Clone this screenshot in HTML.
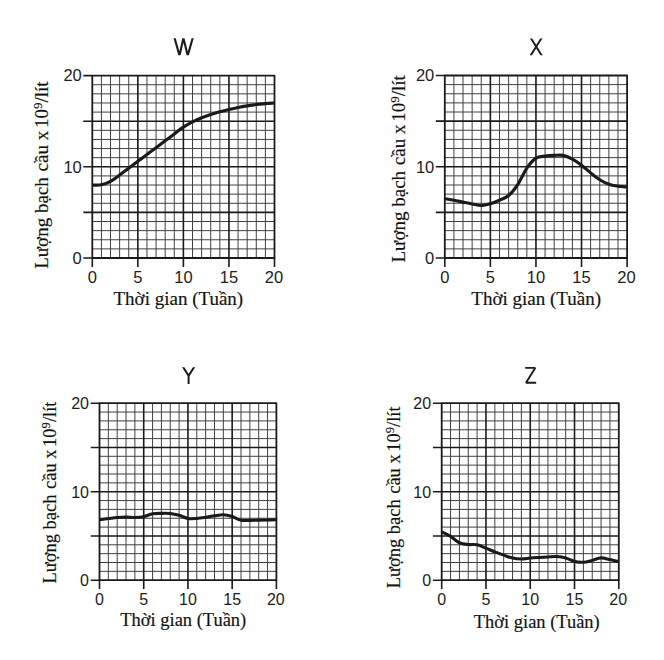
<!DOCTYPE html>
<html><head><meta charset="utf-8"><style>
html,body{margin:0;padding:0;background:#fff;width:664px;height:660px;overflow:hidden}
svg{display:block}
</style></head><body>
<svg width="664" height="660" viewBox="0 0 664 660">
<line x1="101.41" y1="75.60" x2="101.41" y2="258.00" stroke="#404040" stroke-width="1.0"/>
<line x1="92.30" y1="84.72" x2="274.50" y2="84.72" stroke="#404040" stroke-width="1.0"/>
<line x1="110.52" y1="75.60" x2="110.52" y2="258.00" stroke="#404040" stroke-width="1.0"/>
<line x1="92.30" y1="93.84" x2="274.50" y2="93.84" stroke="#404040" stroke-width="1.0"/>
<line x1="119.63" y1="75.60" x2="119.63" y2="258.00" stroke="#404040" stroke-width="1.0"/>
<line x1="92.30" y1="102.96" x2="274.50" y2="102.96" stroke="#404040" stroke-width="1.0"/>
<line x1="128.74" y1="75.60" x2="128.74" y2="258.00" stroke="#404040" stroke-width="1.0"/>
<line x1="92.30" y1="112.08" x2="274.50" y2="112.08" stroke="#404040" stroke-width="1.0"/>
<line x1="146.96" y1="75.60" x2="146.96" y2="258.00" stroke="#404040" stroke-width="1.0"/>
<line x1="92.30" y1="130.32" x2="274.50" y2="130.32" stroke="#404040" stroke-width="1.0"/>
<line x1="156.07" y1="75.60" x2="156.07" y2="258.00" stroke="#404040" stroke-width="1.0"/>
<line x1="92.30" y1="139.44" x2="274.50" y2="139.44" stroke="#404040" stroke-width="1.0"/>
<line x1="165.18" y1="75.60" x2="165.18" y2="258.00" stroke="#404040" stroke-width="1.0"/>
<line x1="92.30" y1="148.56" x2="274.50" y2="148.56" stroke="#404040" stroke-width="1.0"/>
<line x1="174.29" y1="75.60" x2="174.29" y2="258.00" stroke="#404040" stroke-width="1.0"/>
<line x1="92.30" y1="157.68" x2="274.50" y2="157.68" stroke="#404040" stroke-width="1.0"/>
<line x1="192.51" y1="75.60" x2="192.51" y2="258.00" stroke="#404040" stroke-width="1.0"/>
<line x1="92.30" y1="175.92" x2="274.50" y2="175.92" stroke="#404040" stroke-width="1.0"/>
<line x1="201.62" y1="75.60" x2="201.62" y2="258.00" stroke="#404040" stroke-width="1.0"/>
<line x1="92.30" y1="185.04" x2="274.50" y2="185.04" stroke="#404040" stroke-width="1.0"/>
<line x1="210.73" y1="75.60" x2="210.73" y2="258.00" stroke="#404040" stroke-width="1.0"/>
<line x1="92.30" y1="194.16" x2="274.50" y2="194.16" stroke="#404040" stroke-width="1.0"/>
<line x1="219.84" y1="75.60" x2="219.84" y2="258.00" stroke="#404040" stroke-width="1.0"/>
<line x1="92.30" y1="203.28" x2="274.50" y2="203.28" stroke="#404040" stroke-width="1.0"/>
<line x1="238.06" y1="75.60" x2="238.06" y2="258.00" stroke="#404040" stroke-width="1.0"/>
<line x1="92.30" y1="221.52" x2="274.50" y2="221.52" stroke="#404040" stroke-width="1.0"/>
<line x1="247.17" y1="75.60" x2="247.17" y2="258.00" stroke="#404040" stroke-width="1.0"/>
<line x1="92.30" y1="230.64" x2="274.50" y2="230.64" stroke="#404040" stroke-width="1.0"/>
<line x1="256.28" y1="75.60" x2="256.28" y2="258.00" stroke="#404040" stroke-width="1.0"/>
<line x1="92.30" y1="239.76" x2="274.50" y2="239.76" stroke="#404040" stroke-width="1.0"/>
<line x1="265.39" y1="75.60" x2="265.39" y2="258.00" stroke="#404040" stroke-width="1.0"/>
<line x1="92.30" y1="248.88" x2="274.50" y2="248.88" stroke="#404040" stroke-width="1.0"/>
<line x1="137.85" y1="75.60" x2="137.85" y2="258.00" stroke="#1a1a1a" stroke-width="1.6"/>
<line x1="92.30" y1="121.20" x2="274.50" y2="121.20" stroke="#1a1a1a" stroke-width="1.6"/>
<line x1="183.40" y1="75.60" x2="183.40" y2="258.00" stroke="#1a1a1a" stroke-width="1.6"/>
<line x1="92.30" y1="166.80" x2="274.50" y2="166.80" stroke="#1a1a1a" stroke-width="1.6"/>
<line x1="228.95" y1="75.60" x2="228.95" y2="258.00" stroke="#1a1a1a" stroke-width="1.6"/>
<line x1="92.30" y1="212.40" x2="274.50" y2="212.40" stroke="#1a1a1a" stroke-width="1.6"/>
<path d="M92.30,258.00 V267.00 M92.30,75.60 H83.30 M137.85,258.00 V267.00 M92.30,121.20 H83.30 M183.40,258.00 V267.00 M92.30,166.80 H83.30 M228.95,258.00 V267.00 M92.30,212.40 H83.30 M274.50,258.00 V267.00 M92.30,258.00 H83.30 " stroke="#1a1a1a" stroke-width="1.6" fill="none"/>
<rect x="92.30" y="75.60" width="182.20" height="182.40" fill="none" stroke="#1a1a1a" stroke-width="1.80" stroke-linejoin="round"/>
<path d="M92.30,185.04 C93.82,184.99 98.37,185.37 101.41,184.77 C104.45,184.16 107.48,183.02 110.52,181.39 C113.56,179.77 116.59,177.21 119.63,175.01 C122.67,172.80 125.70,170.45 128.74,168.17 C131.78,165.89 134.81,163.61 137.85,161.33 C140.89,159.05 143.92,156.77 146.96,154.49 C150.00,152.21 153.03,149.93 156.07,147.65 C159.11,145.37 162.14,143.09 165.18,140.81 C168.22,138.53 171.25,136.25 174.29,133.97 C177.33,131.69 180.36,129.15 183.40,127.13 C186.44,125.11 189.47,123.40 192.51,121.84 C195.55,120.27 198.58,118.97 201.62,117.73 C204.66,116.50 207.69,115.44 210.73,114.45 C213.77,113.46 216.80,112.63 219.84,111.81 C222.88,110.99 225.91,110.24 228.95,109.53 C231.99,108.81 235.02,108.13 238.06,107.52 C241.10,106.91 244.13,106.38 247.17,105.88 C250.21,105.38 253.24,104.89 256.28,104.51 C259.32,104.13 262.35,103.86 265.39,103.60 C268.43,103.34 272.98,103.07 274.50,102.96" fill="none" stroke="#1a1a1a" stroke-width="3.15" stroke-linecap="butt" stroke-linejoin="round"/>
<line x1="453.92" y1="75.50" x2="453.92" y2="258.00" stroke="#404040" stroke-width="1.0"/>
<line x1="444.80" y1="84.62" x2="627.10" y2="84.62" stroke="#404040" stroke-width="1.0"/>
<line x1="463.03" y1="75.50" x2="463.03" y2="258.00" stroke="#404040" stroke-width="1.0"/>
<line x1="444.80" y1="93.75" x2="627.10" y2="93.75" stroke="#404040" stroke-width="1.0"/>
<line x1="472.14" y1="75.50" x2="472.14" y2="258.00" stroke="#404040" stroke-width="1.0"/>
<line x1="444.80" y1="102.88" x2="627.10" y2="102.88" stroke="#404040" stroke-width="1.0"/>
<line x1="481.26" y1="75.50" x2="481.26" y2="258.00" stroke="#404040" stroke-width="1.0"/>
<line x1="444.80" y1="112.00" x2="627.10" y2="112.00" stroke="#404040" stroke-width="1.0"/>
<line x1="499.49" y1="75.50" x2="499.49" y2="258.00" stroke="#404040" stroke-width="1.0"/>
<line x1="444.80" y1="130.25" x2="627.10" y2="130.25" stroke="#404040" stroke-width="1.0"/>
<line x1="508.61" y1="75.50" x2="508.61" y2="258.00" stroke="#404040" stroke-width="1.0"/>
<line x1="444.80" y1="139.38" x2="627.10" y2="139.38" stroke="#404040" stroke-width="1.0"/>
<line x1="517.72" y1="75.50" x2="517.72" y2="258.00" stroke="#404040" stroke-width="1.0"/>
<line x1="444.80" y1="148.50" x2="627.10" y2="148.50" stroke="#404040" stroke-width="1.0"/>
<line x1="526.84" y1="75.50" x2="526.84" y2="258.00" stroke="#404040" stroke-width="1.0"/>
<line x1="444.80" y1="157.62" x2="627.10" y2="157.62" stroke="#404040" stroke-width="1.0"/>
<line x1="545.07" y1="75.50" x2="545.07" y2="258.00" stroke="#404040" stroke-width="1.0"/>
<line x1="444.80" y1="175.88" x2="627.10" y2="175.88" stroke="#404040" stroke-width="1.0"/>
<line x1="554.18" y1="75.50" x2="554.18" y2="258.00" stroke="#404040" stroke-width="1.0"/>
<line x1="444.80" y1="185.00" x2="627.10" y2="185.00" stroke="#404040" stroke-width="1.0"/>
<line x1="563.30" y1="75.50" x2="563.30" y2="258.00" stroke="#404040" stroke-width="1.0"/>
<line x1="444.80" y1="194.12" x2="627.10" y2="194.12" stroke="#404040" stroke-width="1.0"/>
<line x1="572.41" y1="75.50" x2="572.41" y2="258.00" stroke="#404040" stroke-width="1.0"/>
<line x1="444.80" y1="203.25" x2="627.10" y2="203.25" stroke="#404040" stroke-width="1.0"/>
<line x1="590.64" y1="75.50" x2="590.64" y2="258.00" stroke="#404040" stroke-width="1.0"/>
<line x1="444.80" y1="221.50" x2="627.10" y2="221.50" stroke="#404040" stroke-width="1.0"/>
<line x1="599.75" y1="75.50" x2="599.75" y2="258.00" stroke="#404040" stroke-width="1.0"/>
<line x1="444.80" y1="230.62" x2="627.10" y2="230.62" stroke="#404040" stroke-width="1.0"/>
<line x1="608.87" y1="75.50" x2="608.87" y2="258.00" stroke="#404040" stroke-width="1.0"/>
<line x1="444.80" y1="239.75" x2="627.10" y2="239.75" stroke="#404040" stroke-width="1.0"/>
<line x1="617.99" y1="75.50" x2="617.99" y2="258.00" stroke="#404040" stroke-width="1.0"/>
<line x1="444.80" y1="248.88" x2="627.10" y2="248.88" stroke="#404040" stroke-width="1.0"/>
<line x1="490.38" y1="75.50" x2="490.38" y2="258.00" stroke="#1a1a1a" stroke-width="1.6"/>
<line x1="444.80" y1="121.12" x2="627.10" y2="121.12" stroke="#1a1a1a" stroke-width="1.6"/>
<line x1="535.95" y1="75.50" x2="535.95" y2="258.00" stroke="#1a1a1a" stroke-width="1.6"/>
<line x1="444.80" y1="166.75" x2="627.10" y2="166.75" stroke="#1a1a1a" stroke-width="1.6"/>
<line x1="581.52" y1="75.50" x2="581.52" y2="258.00" stroke="#1a1a1a" stroke-width="1.6"/>
<line x1="444.80" y1="212.38" x2="627.10" y2="212.38" stroke="#1a1a1a" stroke-width="1.6"/>
<path d="M444.80,258.00 V267.00 M444.80,75.50 H435.80 M490.38,258.00 V267.00 M444.80,121.12 H435.80 M535.95,258.00 V267.00 M444.80,166.75 H435.80 M581.52,258.00 V267.00 M444.80,212.38 H435.80 M627.10,258.00 V267.00 M444.80,258.00 H435.80 " stroke="#1a1a1a" stroke-width="1.6" fill="none"/>
<rect x="444.80" y="75.50" width="182.30" height="182.50" fill="none" stroke="#1a1a1a" stroke-width="1.80" stroke-linejoin="round"/>
<path d="M444.80,198.69 C446.32,198.95 450.88,199.66 453.92,200.24 C456.95,200.82 459.99,201.53 463.03,202.16 C466.07,202.78 469.11,203.42 472.14,203.98 C475.18,204.54 478.22,205.58 481.26,205.53 C484.30,205.49 487.34,204.59 490.38,203.71 C493.41,202.82 496.45,201.61 499.49,200.24 C502.53,198.87 505.57,198.11 508.61,195.49 C511.64,192.88 514.68,189.11 517.72,184.54 C520.76,179.98 523.80,172.53 526.84,168.12 C529.87,163.71 532.91,160.09 535.95,158.08 C538.99,156.07 542.03,156.53 545.07,156.07 C548.10,155.62 551.14,155.47 554.18,155.34 C557.22,155.22 560.26,154.71 563.30,155.34 C566.33,155.98 569.37,157.53 572.41,159.18 C575.45,160.82 578.49,162.92 581.52,165.20 C584.56,167.48 587.60,170.45 590.64,172.86 C593.68,175.28 596.72,177.81 599.75,179.71 C602.79,181.61 605.83,183.19 608.87,184.27 C611.91,185.35 614.95,185.73 617.99,186.19 C621.02,186.64 625.58,186.87 627.10,187.01" fill="none" stroke="#1a1a1a" stroke-width="3.15" stroke-linecap="butt" stroke-linejoin="round"/>
<line x1="108.34" y1="403.20" x2="108.34" y2="580.20" stroke="#404040" stroke-width="1.0"/>
<line x1="99.50" y1="412.05" x2="276.40" y2="412.05" stroke="#404040" stroke-width="1.0"/>
<line x1="117.19" y1="403.20" x2="117.19" y2="580.20" stroke="#404040" stroke-width="1.0"/>
<line x1="99.50" y1="420.90" x2="276.40" y2="420.90" stroke="#404040" stroke-width="1.0"/>
<line x1="126.03" y1="403.20" x2="126.03" y2="580.20" stroke="#404040" stroke-width="1.0"/>
<line x1="99.50" y1="429.75" x2="276.40" y2="429.75" stroke="#404040" stroke-width="1.0"/>
<line x1="134.88" y1="403.20" x2="134.88" y2="580.20" stroke="#404040" stroke-width="1.0"/>
<line x1="99.50" y1="438.60" x2="276.40" y2="438.60" stroke="#404040" stroke-width="1.0"/>
<line x1="152.57" y1="403.20" x2="152.57" y2="580.20" stroke="#404040" stroke-width="1.0"/>
<line x1="99.50" y1="456.30" x2="276.40" y2="456.30" stroke="#404040" stroke-width="1.0"/>
<line x1="161.41" y1="403.20" x2="161.41" y2="580.20" stroke="#404040" stroke-width="1.0"/>
<line x1="99.50" y1="465.15" x2="276.40" y2="465.15" stroke="#404040" stroke-width="1.0"/>
<line x1="170.26" y1="403.20" x2="170.26" y2="580.20" stroke="#404040" stroke-width="1.0"/>
<line x1="99.50" y1="474.00" x2="276.40" y2="474.00" stroke="#404040" stroke-width="1.0"/>
<line x1="179.10" y1="403.20" x2="179.10" y2="580.20" stroke="#404040" stroke-width="1.0"/>
<line x1="99.50" y1="482.85" x2="276.40" y2="482.85" stroke="#404040" stroke-width="1.0"/>
<line x1="196.79" y1="403.20" x2="196.79" y2="580.20" stroke="#404040" stroke-width="1.0"/>
<line x1="99.50" y1="500.55" x2="276.40" y2="500.55" stroke="#404040" stroke-width="1.0"/>
<line x1="205.64" y1="403.20" x2="205.64" y2="580.20" stroke="#404040" stroke-width="1.0"/>
<line x1="99.50" y1="509.40" x2="276.40" y2="509.40" stroke="#404040" stroke-width="1.0"/>
<line x1="214.48" y1="403.20" x2="214.48" y2="580.20" stroke="#404040" stroke-width="1.0"/>
<line x1="99.50" y1="518.25" x2="276.40" y2="518.25" stroke="#404040" stroke-width="1.0"/>
<line x1="223.33" y1="403.20" x2="223.33" y2="580.20" stroke="#404040" stroke-width="1.0"/>
<line x1="99.50" y1="527.10" x2="276.40" y2="527.10" stroke="#404040" stroke-width="1.0"/>
<line x1="241.02" y1="403.20" x2="241.02" y2="580.20" stroke="#404040" stroke-width="1.0"/>
<line x1="99.50" y1="544.80" x2="276.40" y2="544.80" stroke="#404040" stroke-width="1.0"/>
<line x1="249.86" y1="403.20" x2="249.86" y2="580.20" stroke="#404040" stroke-width="1.0"/>
<line x1="99.50" y1="553.65" x2="276.40" y2="553.65" stroke="#404040" stroke-width="1.0"/>
<line x1="258.71" y1="403.20" x2="258.71" y2="580.20" stroke="#404040" stroke-width="1.0"/>
<line x1="99.50" y1="562.50" x2="276.40" y2="562.50" stroke="#404040" stroke-width="1.0"/>
<line x1="267.55" y1="403.20" x2="267.55" y2="580.20" stroke="#404040" stroke-width="1.0"/>
<line x1="99.50" y1="571.35" x2="276.40" y2="571.35" stroke="#404040" stroke-width="1.0"/>
<line x1="143.72" y1="403.20" x2="143.72" y2="580.20" stroke="#1a1a1a" stroke-width="1.6"/>
<line x1="99.50" y1="447.45" x2="276.40" y2="447.45" stroke="#1a1a1a" stroke-width="1.6"/>
<line x1="187.95" y1="403.20" x2="187.95" y2="580.20" stroke="#1a1a1a" stroke-width="1.6"/>
<line x1="99.50" y1="491.70" x2="276.40" y2="491.70" stroke="#1a1a1a" stroke-width="1.6"/>
<line x1="232.17" y1="403.20" x2="232.17" y2="580.20" stroke="#1a1a1a" stroke-width="1.6"/>
<line x1="99.50" y1="535.95" x2="276.40" y2="535.95" stroke="#1a1a1a" stroke-width="1.6"/>
<path d="M99.50,580.20 V588.95 M99.50,403.20 H90.75 M143.72,580.20 V588.95 M99.50,447.45 H90.75 M187.95,580.20 V588.95 M99.50,491.70 H90.75 M232.17,580.20 V588.95 M99.50,535.95 H90.75 M276.40,580.20 V588.95 M99.50,580.20 H90.75 " stroke="#1a1a1a" stroke-width="1.6" fill="none"/>
<rect x="99.50" y="403.20" width="176.90" height="177.00" fill="none" stroke="#1a1a1a" stroke-width="1.80" stroke-linejoin="round"/>
<path d="M99.50,519.75 C100.97,519.56 105.40,518.99 108.34,518.60 C111.29,518.22 114.24,517.70 117.19,517.45 C120.14,517.20 123.09,517.10 126.03,517.10 C128.98,517.10 131.93,517.53 134.88,517.45 C137.83,517.38 140.78,517.26 143.72,516.66 C146.67,516.05 149.62,514.37 152.57,513.83 C155.52,513.28 158.47,513.43 161.41,513.38 C164.36,513.34 167.31,513.24 170.26,513.56 C173.21,513.88 176.16,514.52 179.10,515.33 C182.05,516.14 185.00,517.91 187.95,518.43 C190.90,518.94 193.85,518.60 196.79,518.43 C199.74,518.25 202.69,517.79 205.64,517.37 C208.59,516.94 211.54,516.29 214.48,515.86 C217.43,515.43 220.38,514.68 223.33,514.80 C226.28,514.92 229.23,515.67 232.17,516.57 C235.12,517.47 238.07,519.56 241.02,520.20 C243.97,520.83 246.92,520.39 249.86,520.37 C252.81,520.36 255.76,520.18 258.71,520.11 C261.66,520.03 264.61,519.99 267.55,519.93 C270.50,519.87 274.93,519.78 276.40,519.75" fill="none" stroke="#1a1a1a" stroke-width="3.06" stroke-linecap="butt" stroke-linejoin="round"/>
<line x1="450.56" y1="403.20" x2="450.56" y2="580.20" stroke="#404040" stroke-width="1.0"/>
<line x1="441.70" y1="412.05" x2="618.80" y2="412.05" stroke="#404040" stroke-width="1.0"/>
<line x1="459.41" y1="403.20" x2="459.41" y2="580.20" stroke="#404040" stroke-width="1.0"/>
<line x1="441.70" y1="420.90" x2="618.80" y2="420.90" stroke="#404040" stroke-width="1.0"/>
<line x1="468.26" y1="403.20" x2="468.26" y2="580.20" stroke="#404040" stroke-width="1.0"/>
<line x1="441.70" y1="429.75" x2="618.80" y2="429.75" stroke="#404040" stroke-width="1.0"/>
<line x1="477.12" y1="403.20" x2="477.12" y2="580.20" stroke="#404040" stroke-width="1.0"/>
<line x1="441.70" y1="438.60" x2="618.80" y2="438.60" stroke="#404040" stroke-width="1.0"/>
<line x1="494.83" y1="403.20" x2="494.83" y2="580.20" stroke="#404040" stroke-width="1.0"/>
<line x1="441.70" y1="456.30" x2="618.80" y2="456.30" stroke="#404040" stroke-width="1.0"/>
<line x1="503.69" y1="403.20" x2="503.69" y2="580.20" stroke="#404040" stroke-width="1.0"/>
<line x1="441.70" y1="465.15" x2="618.80" y2="465.15" stroke="#404040" stroke-width="1.0"/>
<line x1="512.54" y1="403.20" x2="512.54" y2="580.20" stroke="#404040" stroke-width="1.0"/>
<line x1="441.70" y1="474.00" x2="618.80" y2="474.00" stroke="#404040" stroke-width="1.0"/>
<line x1="521.39" y1="403.20" x2="521.39" y2="580.20" stroke="#404040" stroke-width="1.0"/>
<line x1="441.70" y1="482.85" x2="618.80" y2="482.85" stroke="#404040" stroke-width="1.0"/>
<line x1="539.11" y1="403.20" x2="539.11" y2="580.20" stroke="#404040" stroke-width="1.0"/>
<line x1="441.70" y1="500.55" x2="618.80" y2="500.55" stroke="#404040" stroke-width="1.0"/>
<line x1="547.96" y1="403.20" x2="547.96" y2="580.20" stroke="#404040" stroke-width="1.0"/>
<line x1="441.70" y1="509.40" x2="618.80" y2="509.40" stroke="#404040" stroke-width="1.0"/>
<line x1="556.81" y1="403.20" x2="556.81" y2="580.20" stroke="#404040" stroke-width="1.0"/>
<line x1="441.70" y1="518.25" x2="618.80" y2="518.25" stroke="#404040" stroke-width="1.0"/>
<line x1="565.67" y1="403.20" x2="565.67" y2="580.20" stroke="#404040" stroke-width="1.0"/>
<line x1="441.70" y1="527.10" x2="618.80" y2="527.10" stroke="#404040" stroke-width="1.0"/>
<line x1="583.38" y1="403.20" x2="583.38" y2="580.20" stroke="#404040" stroke-width="1.0"/>
<line x1="441.70" y1="544.80" x2="618.80" y2="544.80" stroke="#404040" stroke-width="1.0"/>
<line x1="592.23" y1="403.20" x2="592.23" y2="580.20" stroke="#404040" stroke-width="1.0"/>
<line x1="441.70" y1="553.65" x2="618.80" y2="553.65" stroke="#404040" stroke-width="1.0"/>
<line x1="601.09" y1="403.20" x2="601.09" y2="580.20" stroke="#404040" stroke-width="1.0"/>
<line x1="441.70" y1="562.50" x2="618.80" y2="562.50" stroke="#404040" stroke-width="1.0"/>
<line x1="609.94" y1="403.20" x2="609.94" y2="580.20" stroke="#404040" stroke-width="1.0"/>
<line x1="441.70" y1="571.35" x2="618.80" y2="571.35" stroke="#404040" stroke-width="1.0"/>
<line x1="485.97" y1="403.20" x2="485.97" y2="580.20" stroke="#1a1a1a" stroke-width="1.6"/>
<line x1="441.70" y1="447.45" x2="618.80" y2="447.45" stroke="#1a1a1a" stroke-width="1.6"/>
<line x1="530.25" y1="403.20" x2="530.25" y2="580.20" stroke="#1a1a1a" stroke-width="1.6"/>
<line x1="441.70" y1="491.70" x2="618.80" y2="491.70" stroke="#1a1a1a" stroke-width="1.6"/>
<line x1="574.52" y1="403.20" x2="574.52" y2="580.20" stroke="#1a1a1a" stroke-width="1.6"/>
<line x1="441.70" y1="535.95" x2="618.80" y2="535.95" stroke="#1a1a1a" stroke-width="1.6"/>
<path d="M441.70,580.20 V588.95 M441.70,403.20 H432.95 M485.97,580.20 V588.95 M441.70,447.45 H432.95 M530.25,580.20 V588.95 M441.70,491.70 H432.95 M574.52,580.20 V588.95 M441.70,535.95 H432.95 M618.80,580.20 V588.95 M441.70,580.20 H432.95 " stroke="#1a1a1a" stroke-width="1.6" fill="none"/>
<rect x="441.70" y="403.20" width="177.10" height="177.00" fill="none" stroke="#1a1a1a" stroke-width="1.80" stroke-linejoin="round"/>
<path d="M441.70,531.97 C443.18,532.70 447.60,534.59 450.56,536.39 C453.51,538.19 456.46,541.41 459.41,542.76 C462.36,544.12 465.31,544.20 468.26,544.53 C471.22,544.87 474.17,544.20 477.12,544.80 C480.07,545.40 483.02,546.98 485.97,548.16 C488.93,549.34 491.88,550.71 494.83,551.88 C497.78,553.05 500.73,554.12 503.69,555.15 C506.64,556.19 509.59,557.44 512.54,558.08 C515.49,558.71 518.44,558.96 521.39,558.96 C524.35,558.96 527.30,558.33 530.25,558.08 C533.20,557.82 536.15,557.65 539.11,557.46 C542.06,557.26 545.01,557.07 547.96,556.92 C550.91,556.78 553.86,556.41 556.81,556.57 C559.77,556.73 562.72,557.09 565.67,557.90 C568.62,558.71 571.57,560.72 574.52,561.44 C577.48,562.16 580.43,562.41 583.38,562.23 C586.33,562.06 589.28,561.10 592.23,560.38 C595.19,559.65 598.14,558.03 601.09,557.90 C604.04,557.77 606.99,558.96 609.94,559.58 C612.90,560.20 617.32,561.28 618.80,561.62" fill="none" stroke="#1a1a1a" stroke-width="3.06" stroke-linecap="butt" stroke-linejoin="round"/>
<text x="81.80" y="81.20" font-family="Liberation Sans" font-size="16.5" text-anchor="end" fill="#1c1c1c">20</text>
<text x="81.80" y="172.80" font-family="Liberation Sans" font-size="16.5" text-anchor="end" fill="#1c1c1c">10</text>
<text x="81.80" y="264.00" font-family="Liberation Sans" font-size="16.5" text-anchor="end" fill="#1c1c1c">0</text>
<text x="92.30" y="283.00" font-family="Liberation Sans" font-size="16.5" text-anchor="middle" fill="#1c1c1c">0</text>
<text x="137.85" y="283.00" font-family="Liberation Sans" font-size="16.5" text-anchor="middle" fill="#1c1c1c">5</text>
<text x="183.40" y="283.00" font-family="Liberation Sans" font-size="16.5" text-anchor="middle" fill="#1c1c1c">10</text>
<text x="228.95" y="283.00" font-family="Liberation Sans" font-size="16.5" text-anchor="middle" fill="#1c1c1c">15</text>
<text x="273.90" y="283.00" font-family="Liberation Sans" font-size="16.5" text-anchor="middle" fill="#1c1c1c">20</text>
<text x="434.30" y="81.10" font-family="Liberation Sans" font-size="16.5" text-anchor="end" fill="#1c1c1c">20</text>
<text x="434.30" y="172.75" font-family="Liberation Sans" font-size="16.5" text-anchor="end" fill="#1c1c1c">10</text>
<text x="434.30" y="264.00" font-family="Liberation Sans" font-size="16.5" text-anchor="end" fill="#1c1c1c">0</text>
<text x="444.80" y="283.00" font-family="Liberation Sans" font-size="16.5" text-anchor="middle" fill="#1c1c1c">0</text>
<text x="490.38" y="283.00" font-family="Liberation Sans" font-size="16.5" text-anchor="middle" fill="#1c1c1c">5</text>
<text x="535.95" y="283.00" font-family="Liberation Sans" font-size="16.5" text-anchor="middle" fill="#1c1c1c">10</text>
<text x="581.52" y="283.00" font-family="Liberation Sans" font-size="16.5" text-anchor="middle" fill="#1c1c1c">15</text>
<text x="626.50" y="283.00" font-family="Liberation Sans" font-size="16.5" text-anchor="middle" fill="#1c1c1c">20</text>
<text x="89.00" y="408.64" font-family="Liberation Sans" font-size="16.038" text-anchor="end" fill="#1c1c1c">20</text>
<text x="89.00" y="497.53" font-family="Liberation Sans" font-size="16.038" text-anchor="end" fill="#1c1c1c">10</text>
<text x="89.00" y="586.03" font-family="Liberation Sans" font-size="16.038" text-anchor="end" fill="#1c1c1c">0</text>
<text x="99.50" y="604.50" font-family="Liberation Sans" font-size="16.038" text-anchor="middle" fill="#1c1c1c">0</text>
<text x="143.72" y="604.50" font-family="Liberation Sans" font-size="16.038" text-anchor="middle" fill="#1c1c1c">5</text>
<text x="187.95" y="604.50" font-family="Liberation Sans" font-size="16.038" text-anchor="middle" fill="#1c1c1c">10</text>
<text x="232.17" y="604.50" font-family="Liberation Sans" font-size="16.038" text-anchor="middle" fill="#1c1c1c">15</text>
<text x="275.80" y="604.50" font-family="Liberation Sans" font-size="16.038" text-anchor="middle" fill="#1c1c1c">20</text>
<text x="431.20" y="408.64" font-family="Liberation Sans" font-size="16.038" text-anchor="end" fill="#1c1c1c">20</text>
<text x="431.20" y="497.53" font-family="Liberation Sans" font-size="16.038" text-anchor="end" fill="#1c1c1c">10</text>
<text x="431.20" y="586.03" font-family="Liberation Sans" font-size="16.038" text-anchor="end" fill="#1c1c1c">0</text>
<text x="441.70" y="604.50" font-family="Liberation Sans" font-size="16.038" text-anchor="middle" fill="#1c1c1c">0</text>
<text x="485.97" y="604.50" font-family="Liberation Sans" font-size="16.038" text-anchor="middle" fill="#1c1c1c">5</text>
<text x="530.25" y="604.50" font-family="Liberation Sans" font-size="16.038" text-anchor="middle" fill="#1c1c1c">10</text>
<text x="574.52" y="604.50" font-family="Liberation Sans" font-size="16.038" text-anchor="middle" fill="#1c1c1c">15</text>
<text x="618.20" y="604.50" font-family="Liberation Sans" font-size="16.038" text-anchor="middle" fill="#1c1c1c">20</text>
<text x="113.50" y="305.00" font-family="Liberation Serif" font-size="19.00" text-anchor="start" fill="#111" stroke="#111" stroke-width="0.15" >Thời gian (Tuần)</text>
<text transform="translate(47.50,268.80) rotate(-90)" x="0" y="0" font-family="Liberation Serif" font-size="19.00" fill="#111" stroke="#111" stroke-width="0.15">Lượng bạch <tspan dx="1.00">cầu x </tspan><tspan dx="-2.00">10</tspan><tspan dy="-6.00" font-size="13.00">9</tspan><tspan dy="6.00">/lít</tspan></text>
<text x="471.30" y="305.00" font-family="Liberation Serif" font-size="19.00" text-anchor="start" fill="#111" stroke="#111" stroke-width="0.15" >Thời gian (Tuần)</text>
<text transform="translate(404.90,262.50) rotate(-90)" x="0" y="0" font-family="Liberation Serif" font-size="19.00" fill="#111" stroke="#111" stroke-width="0.15">Lượng bạch <tspan dx="1.00">cầu x </tspan><tspan dx="-2.00">10</tspan><tspan dy="-6.00" font-size="13.00">9</tspan><tspan dy="6.00">/lít</tspan></text>
<text x="120.30" y="626.00" font-family="Liberation Serif" font-size="18.47" text-anchor="start" fill="#111" stroke="#111" stroke-width="0.15" >Thời gian (Tuần)</text>
<text transform="translate(55.90,583.50) rotate(-90)" x="0" y="0" font-family="Liberation Serif" font-size="18.47" fill="#111" stroke="#111" stroke-width="0.15">Lượng bạch <tspan dx="0.97">cầu x </tspan><tspan dx="-1.94">10</tspan><tspan dy="-5.83" font-size="12.64">9</tspan><tspan dy="5.83">/lít</tspan></text>
<text x="473.80" y="628.00" font-family="Liberation Serif" font-size="18.47" text-anchor="start" fill="#111" stroke="#111" stroke-width="0.15" >Thời gian (Tuần)</text>
<text transform="translate(399.80,588.30) rotate(-90)" x="0" y="0" font-family="Liberation Serif" font-size="18.47" fill="#111" stroke="#111" stroke-width="0.15">Lượng bạch <tspan dx="0.97">cầu x </tspan><tspan dx="-1.94">10</tspan><tspan dy="-5.83" font-size="12.64">9</tspan><tspan dy="5.83">/lít</tspan></text>
<defs><clipPath id="cw"><rect x="160" y="38.3" width="40" height="16.9"/></clipPath><clipPath id="cx"><rect x="520" y="38.4" width="30" height="16.9"/></clipPath><clipPath id="cy"><rect x="170" y="367.2" width="30" height="16.7"/></clipPath></defs>
<g fill="none" stroke="#1c1c1c" stroke-width="2.1" stroke-linejoin="miter" stroke-miterlimit="10">
<path clip-path="url(#cw)" d="M173.8,35.3 L179.5,55.6 L183.4,38.0 L187.7,55.6 L193.5,35.3"/>
<path clip-path="url(#cx)" d="M529.6,36 L543.1,57.8 M542.9,36 L529.2,57.8" stroke-width="1.95"/>
<path clip-path="url(#cy)" d="M181.6,364.6 L188.6,375.8 L195.7,364.6 M188.6,375.8 L188.6,385" stroke-width="2.0"/>
<path d="M525.2,367.9 L535.2,367.9 L526.0,382.8 L536.2,382.8" stroke-width="1.9" stroke-linejoin="bevel"/>
</g>
</svg>
</body></html>
